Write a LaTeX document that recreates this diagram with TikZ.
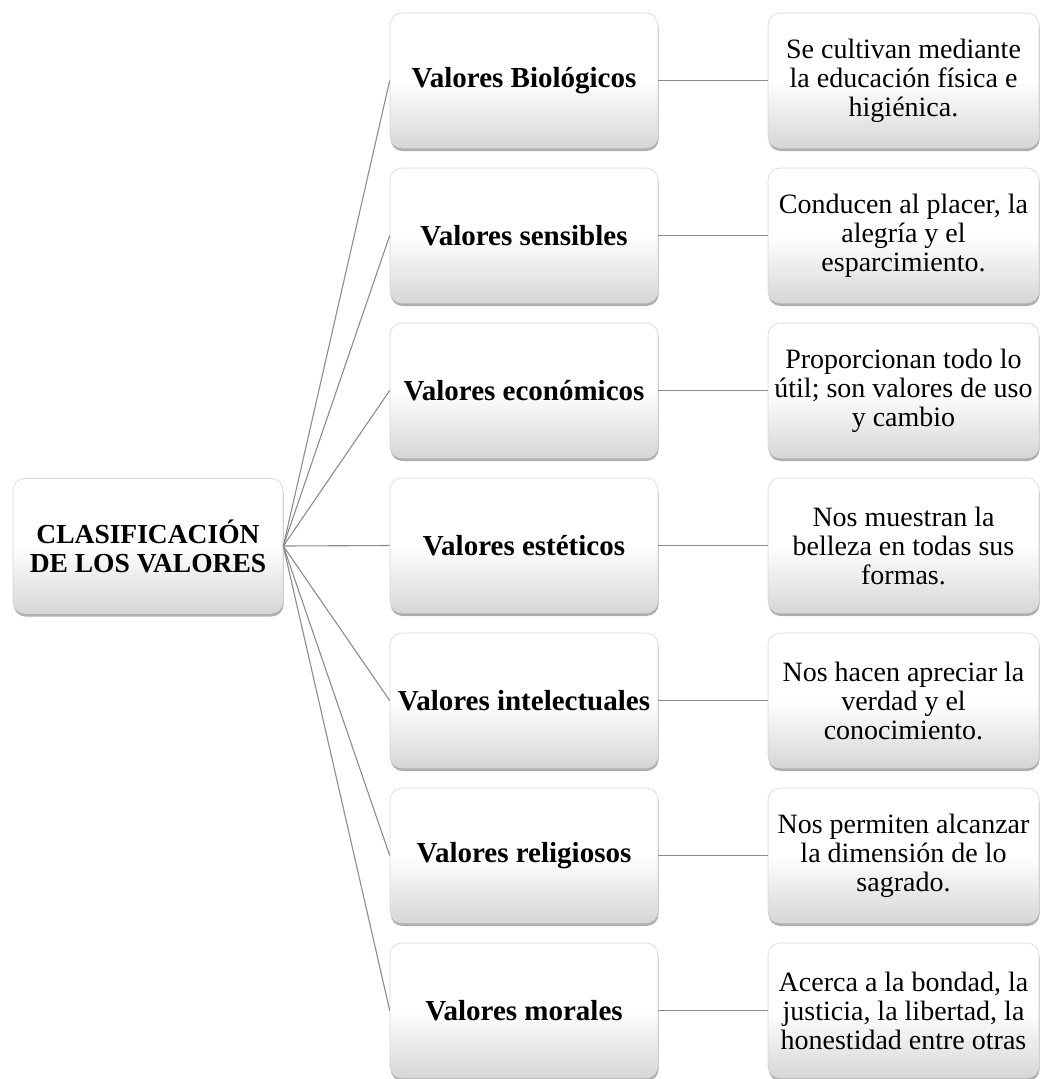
\documentclass[tikz,border=0pt]{standalone}
\usepackage{fontspec}
\setmainfont{Liberation Serif}
\usetikzlibrary{shadows}
\begin{document}
\begin{tikzpicture}[x=1pt,y=-1pt,
  box/.style={rounded corners=12pt, draw=black!16, line width=0.6pt,
    top color=white, bottom color=black!16, middle color=white,
    minimum height=135pt, inner sep=1pt, align=center,
    font=\fontsize{28pt}{29pt}\selectfont,
    drop shadow={shadow xshift=0.6pt, shadow yshift=-3pt, opacity=0.45, fill=black!70}},
  root/.style={box, minimum width=270pt, font=\fontsize{27.5pt}{29pt}\selectfont\bfseries},
  cat/.style={box, minimum width=268pt, font=\fontsize{29pt}{29pt}\selectfont\bfseries},
  desc/.style={box, minimum width=271pt},
  link/.style={draw=black!45, line width=1.1pt}]
\useasboundingbox (0,0) rectangle (1041,1079);
\node[root] (root) at (148,546) {CLASIFICACIÓN\\DE LOS VALORES};
\node[cat] (c1) at (524,80.5) {Valores Biológicos};
\node[cat] (c2) at (524,235.5) {Valores sensibles};
\node[cat] (c3) at (524,390.5) {Valores económicos};
\node[cat] (c4) at (524,545.5) {Valores estéticos};
\node[cat] (c5) at (524,700.5) {Valores intelectuales};
\node[cat] (c6) at (524,855.5) {Valores religiosos};
\node[cat] (c7) at (524,1010.5) {Valores morales};
\node[desc] (d1) at (903.5,80.5) {Se cultivan mediante\\la educación física e\\higiénica.};
\node[desc] (d2) at (903.5,235.5) {Conducen al placer, la\\alegría y el\\esparcimiento.};
\node[desc] (d3) at (903.5,390.5) {Proporcionan todo lo\\útil; son valores de uso\\y cambio};
\node[desc] (d4) at (903.5,545.5) {Nos muestran la\\belleza en todas sus\\formas.};
\node[desc] (d5) at (903.5,700.5) {Nos hacen apreciar la\\verdad y el\\conocimiento.};
\node[desc] (d6) at (903.5,855.5) {Nos permiten alcanzar\\la dimensión de lo\\sagrado.};
\node[desc] (d7) at (903.5,1010.5) {Acerca a la bondad, la\\justicia, la libertad, la\\honestidad entre otras};
\foreach \i in {1,...,7}{
  \draw[link] (root.east) -- (c\i.west);
  \draw[link] (c\i.east) -- (d\i.west);
}
\end{tikzpicture}
\end{document}
